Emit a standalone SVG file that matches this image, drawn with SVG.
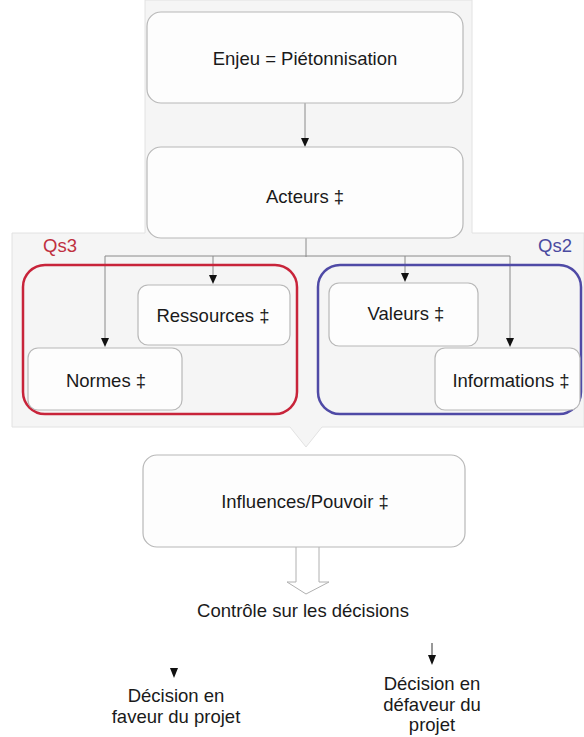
<svg xmlns="http://www.w3.org/2000/svg" width="584" height="737" viewBox="0 0 584 737">
<defs>
<style>
.box{fill:#fdfdfd;stroke:#b8b8b8;stroke-width:1.2}
.lbl{font-family:"Liberation Sans",Arial,sans-serif;font-size:18.5px;fill:#1a1a1a;text-anchor:middle}
.con{stroke:#8a8a8a;stroke-width:1;fill:none}
.ah{fill:#111}
</style>
<marker id="arr" markerWidth="8" markerHeight="10" refX="4" refY="10" orient="auto" markerUnits="userSpaceOnUse" viewBox="0 0 8 10">
<path d="M0,0 L8,0 L4,10 Z" fill="#111" transform="rotate(-90 4 5)"/>
</marker>
</defs>
<rect width="584" height="737" fill="#ffffff"/>
<g id="panel">
<path d="M145,0 H472 V233 H584 V427 H322 L306,447 L290,427 H12 V233 H145 Z" fill="#f5f5f5" stroke="#e2e2e2" stroke-width="1"/>
</g>
<g id="connectors">
<line class="con" x1="305" y1="103" x2="305" y2="138"/>
<path class="ah" d="M301,138 L309,138 L305,147 Z"/>
<line class="con" x1="306" y1="238" x2="306" y2="257"/>
<line class="con" x1="105" y1="256" x2="510" y2="256"/>
<line class="con" x1="105" y1="256" x2="105" y2="338"/>
<path class="ah" d="M101,338 L109,338 L105,347 Z"/>
<line class="con" x1="213" y1="256" x2="213" y2="276"/>
<path class="ah" d="M209,275 L217,275 L213,284 Z"/>
<line class="con" x1="405" y1="256" x2="405" y2="274"/>
<path class="ah" d="M401,273 L409,273 L405,282 Z"/>
<line class="con" x1="510" y1="256" x2="510" y2="338"/>
<path class="ah" d="M506,338 L514,338 L510,347 Z"/>
<path d="M296,547 V582 H287 L306,594 L329,582 H319 V547" fill="none" stroke="#b0b0b0" stroke-width="1"/>
<path class="ah" d="M170,668 L178,668 L174,678 Z"/>
<line x1="432" y1="643" x2="432" y2="656" stroke="#333" stroke-width="1"/>
<path class="ah" d="M428,655 L436,655 L432,665 Z"/>
</g>
<g id="qs3">
<rect x="23" y="265" width="274" height="149" rx="22" fill="none" stroke="#c8243a" stroke-width="2.5"/>
<text x="60" y="252" class="lbl" style="fill:#c0303f">Qs3</text>
</g>
<g id="qs2">
<rect x="318" y="265" width="263" height="149" rx="22" fill="none" stroke="#4f4aa6" stroke-width="2.5"/>
<text x="555" y="252" class="lbl" style="fill:#4a4aa0">Qs2</text>
</g>
<g id="enjeu">
<rect class="box" x="147" y="12" width="316" height="91" rx="14"/>
<text x="305" y="65" class="lbl">Enjeu = Piétonnisation</text>
</g>
<g id="acteurs">
<rect class="box" x="147" y="147" width="316" height="91" rx="14"/>
<text x="305" y="203" class="lbl">Acteurs ‡</text>
</g>
<g id="ressources">
<rect class="box" x="138" y="285" width="152" height="60" rx="10"/>
<text x="213" y="322" class="lbl">Ressources ‡</text>
</g>
<g id="normes">
<rect class="box" x="28" y="348" width="154" height="62" rx="10"/>
<text x="106" y="387" class="lbl">Normes ‡</text>
</g>
<g id="valeurs">
<rect class="box" x="329" y="283" width="149" height="63" rx="10"/>
<text x="406" y="320" class="lbl">Valeurs ‡</text>
</g>
<g id="informations">
<rect class="box" x="435" y="348" width="145" height="62" rx="10"/>
<text x="511" y="387" class="lbl">Informations ‡</text>
</g>
<g id="influences">
<rect class="box" x="143" y="455" width="322" height="92" rx="14"/>
<text x="305" y="508" class="lbl">Influences/Pouvoir ‡</text>
</g>
<g id="controle">
<text x="303" y="617" class="lbl">Contrôle sur les décisions</text>
</g>
<g id="faveur">
<text x="176" y="702" class="lbl">Décision en</text>
<text x="176" y="723" class="lbl">faveur du projet</text>
</g>
<g id="defaveur">
<text x="432" y="690" class="lbl">Décision en</text>
<text x="432" y="711" class="lbl">défaveur du</text>
<text x="432" y="731" class="lbl">projet</text>
</g>
</svg>
